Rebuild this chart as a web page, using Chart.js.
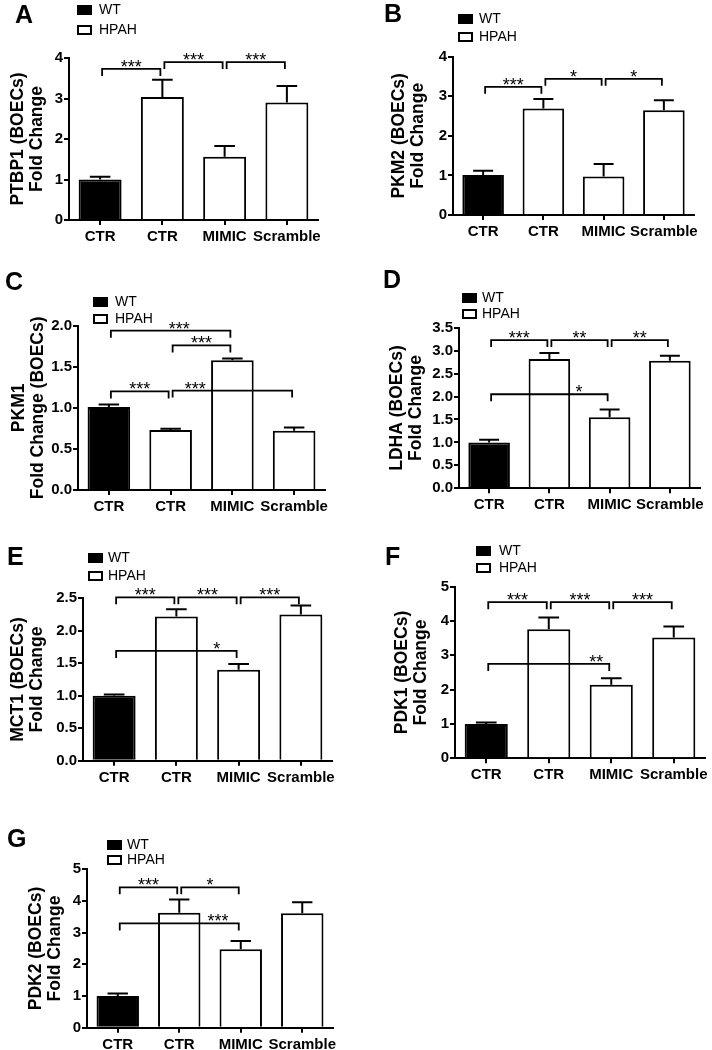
<!DOCTYPE html>
<html><head><meta charset="utf-8">
<script src="https://cdn.jsdelivr.net/npm/chart.js@4.4.1/dist/chart.umd.min.js"></script>
<style>
html,body{margin:0;padding:0;background:#fff;}
body{width:712px;height:1050px;position:relative;overflow:hidden;}
canvas{position:absolute;}
</style></head><body>
<canvas id="cA"></canvas><canvas id="cB"></canvas><canvas id="cC"></canvas><canvas id="cD"></canvas>
<canvas id="cE"></canvas><canvas id="cF"></canvas><canvas id="cG"></canvas>
<script>
// ---- data ----
const categories = ['CTR', 'CTR', 'MIMIC', 'Scramble'];
const groups = ['WT', 'HPAH', 'HPAH', 'HPAH'];
const legendLabels = ['WT', 'HPAH'];
const panelLetters = ['A', 'B', 'C', 'D', 'E', 'F', 'G'];

const ptbp1Mean = [1.00, 3.04, 1.56, 2.90];
const ptbp1Sem  = [0.07, 0.42, 0.27, 0.41];
const pkm2Mean  = [1.01, 2.69, 0.97, 2.65];
const pkm2Sem   = [0.11, 0.24, 0.32, 0.25];
const pkm1Mean  = [1.01, 0.73, 1.58, 0.72];
const pkm1Sem   = [0.03, 0.015, 0.02, 0.04];
const ldhaMean  = [1.00, 2.82, 1.55, 2.78];
const ldhaSem   = [0.06, 0.13, 0.17, 0.11];
const mct1Mean  = [1.00, 2.22, 1.40, 2.25];
const mct1Sem   = [0.02, 0.11, 0.09, 0.14];
const pdk1Mean  = [1.00, 3.76, 2.14, 3.52];
const pdk1Sem   = [0.04, 0.34, 0.19, 0.32];
const pdk2Mean  = [1.00, 3.63, 2.48, 3.61];
const pdk2Sem   = [0.08, 0.42, 0.26, 0.35];

const yTicksA = ['0', '1', '2', '3', '4'];
const yTicksB = ['0', '1', '2', '3', '4'];
const yTicksC = ['0.0', '0.5', '1.0', '1.5', '2.0'];
const yTicksD = ['0.0', '0.5', '1.0', '1.5', '2.0', '2.5', '3.0', '3.5'];
const yTicksE = ['0.0', '0.5', '1.0', '1.5', '2.0', '2.5'];
const yTicksF = ['0', '1', '2', '3', '4', '5'];
const yTicksG = ['0', '1', '2', '3', '4', '5'];

const yTitleA = ['PTBP1 (BOECs)', 'Fold Change'];
const yTitleB = ['PKM2 (BOECs)', 'Fold Change'];
const yTitleC = ['PKM1', 'Fold Change (BOECs)'];
const yTitleD = ['LDHA (BOECs)', 'Fold Change'];
const yTitleE = ['MCT1 (BOECs)', 'Fold Change'];
const yTitleF = ['PDK1 (BOECs)', 'Fold Change'];
const yTitleG = ['PDK2 (BOECs)', 'Fold Change'];

// significance brackets: [from category, to category, bracket level, stars, label category (null = middle)]
const sigA = [[0, 1, 3.73, '***', null], [1, 2, 3.90, '***', null], [2, 3, 3.90, '***', null]];
const sigB = [[0, 1, 3.24, '***', null], [1, 2, 3.44, '*', null], [2, 3, 3.44, '*', null]];
const sigC = [[0, 2, 1.94, '***', 1.14], [1, 2, 1.76, '***', null], [0, 1, 1.20, '***', null], [1, 3, 1.21, '***', 1.40]];
const sigD = [[0, 1, 3.23, '***', null], [1, 2, 3.23, '**', null], [2, 3, 3.23, '**', null], [0, 2, 2.05, '*', 1.49]];
const sigE = [[0, 1, 2.515, '***', null], [1, 2, 2.515, '***', null], [2, 3, 2.515, '***', null], [0, 2, 1.69, '*', 1.65]];
const sigF = [[0, 1, 4.55, '***', null], [1, 2, 4.55, '***', null], [2, 3, 4.55, '***', null], [0, 2, 2.75, '**', 1.76]];
const sigG = [[0, 1, 4.43, '***', null], [1, 2, 4.43, '*', null], [0, 2, 3.29, '***', 1.63]];

// ---- layout (page pixels) ----
const FAMILY = '"Liberation Sans", Arial, Helvetica, sans-serif';
Chart.defaults.font.family = FAMILY;
Chart.defaults.color = '#000';

const layouts = {
  A: {canvas: [0, 0, 356, 255],    plot: [69, 58, 318, 220],      title1X: 18,  letter: [15, 23],  legend: [77, 5, 25, 99]},
  B: {canvas: [356, 0, 356, 255],  plot: [453, 56.7, 694, 215],   title1X: 399, letter: [384, 22], legend: [458, 14, 32, 479]},
  C: {canvas: [0, 260, 356, 265],  plot: [78, 325.7, 325, 490],   title1X: 19,  letter: [5, 290],  legend: [93, 297, 314, 115]},
  D: {canvas: [356, 260, 356, 265],plot: [459, 327.7, 700, 488.3],title1X: 397, letter: [383, 288],legend: [462, 293, 309, 482]},
  E: {canvas: [0, 530, 356, 260],  plot: [83, 598.3, 332, 760.7], title1X: 18,  letter: [7, 565],  legend: [88, 553, 571, 108]},
  F: {canvas: [356, 530, 356, 260],plot: [455, 586.7, 705, 758.3],title1X: 402, letter: [385, 565],legend: [476, 546, 563, 499]},
  G: {canvas: [0, 820, 356, 230],  plot: [87, 869.3, 333, 1027.7],title1X: 36, letter: [7, 847],  legend: [107, 840, 855, 127]}
};

const decorPlugin = {
  id: 'decor',
  afterDatasetsDraw(chart, args, o) {
    const ctx = chart.ctx, xs = chart.scales.x, ys = chart.scales.y;
    const meta = chart.getDatasetMeta(0);
    ctx.save();
    ctx.strokeStyle = '#000';
    ctx.lineWidth = 2;
    // error bars (mean + SEM)
    o.mean.forEach((m, i) => {
      const bar = meta.data[i];
      const cx = xs.getPixelForValue(i);
      const yv = ys.getPixelForValue(m), yt = ys.getPixelForValue(m + o.sem[i]);
      const half = bar.width * 0.24;
      ctx.beginPath();
      ctx.moveTo(cx, yv); ctx.lineTo(cx, yt);
      ctx.moveTo(cx - half, yt); ctx.lineTo(cx + half, yt);
      ctx.stroke();
    });
    // significance brackets
    ctx.lineWidth = 1.8;
    ctx.fillStyle = '#000';
    ctx.font = '18px ' + FAMILY;
    ctx.textAlign = 'center';
    ctx.textBaseline = 'alphabetic';
    o.sig.forEach(([a, b, lvl, lab, at]) => {
      const x1 = xs.getPixelForValue(a) + 2, x2 = xs.getPixelForValue(b) - 2;
      const yy = ys.getPixelForValue(lvl);
      ctx.beginPath();
      ctx.moveTo(x1, yy + 7); ctx.lineTo(x1, yy); ctx.lineTo(x2, yy); ctx.lineTo(x2, yy + 7);
      ctx.stroke();
      const lx = at === null ? (x1 + x2) / 2 : xs.getPixelForValue(at);
      ctx.fillText(lab, lx, yy + 4);
    });
    ctx.restore();
  },
  afterDraw(chart, args, o) {
    const ctx = chart.ctx;
    const [ox, oy] = o.origin;
    ctx.save();
    // panel letter
    ctx.fillStyle = '#000';
    ctx.font = 'bold 25px ' + FAMILY;
    ctx.textAlign = 'left';
    ctx.textBaseline = 'alphabetic';
    ctx.fillText(o.letter, o.letterPos[0] - ox, o.letterPos[1] - oy);
    // legend
    const [bx, t1, t2, tx] = o.legendPos;
    const tops = [t1, t2];
    ctx.font = '14px ' + FAMILY;
    ctx.textBaseline = 'middle';
    legendLabels.forEach((lab, k) => {
      const top = tops[k] - oy, left = bx - ox;
      if (lab === 'WT') {
        ctx.fillStyle = '#000';
        ctx.fillRect(left, top, 15, 10);
      } else {
        ctx.fillStyle = '#fff';
        ctx.fillRect(left, top, 15, 10);
        ctx.strokeStyle = '#000';
        ctx.lineWidth = 2;
        ctx.strokeRect(left + 1, top + 1, 13, 8);
      }
      ctx.fillStyle = '#000';
      ctx.fillText(lab, tx - ox, top + 5.5);
    });
    ctx.restore();
  }
};

function makePanel(id, letter, mean, sem, yTicks, yTitle, sig) {
  const L = layouts[letter];
  const [cx, cy, cw, ch] = L.canvas;
  const [pl, pt, pr, pb] = L.plot;
  const cv = document.getElementById(id);
  cv.width = cw; cv.height = ch;
  cv.style.left = cx + 'px'; cv.style.top = cy + 'px';
  const titleFont = {family: FAMILY, size: 17.5, weight: 'bold', lineHeight: 1.1};
  const lh = 17.5 * 1.1;
  new Chart(cv, {
    type: 'bar',
    data: {
      labels: categories,
      datasets: [{
        data: mean,
        backgroundColor: groups.map(g => g === 'WT' ? '#000' : '#fff'),
        borderColor: '#000',
        borderWidth: 2,
        barPercentage: 0.69,
        categoryPercentage: 1
      }]
    },
    options: {
      responsive: false,
      animation: false,
      events: [],
      layout: {padding: {left: 0, top: pt - cy, right: cx + cw - pr, bottom: 0}},
      plugins: {
        legend: {display: false},
        tooltip: {enabled: false},
        decor: {
          mean: mean, sem: sem, sig: sig, letter: letter,
          origin: [cx, cy], letterPos: L.letter, legendPos: L.legend
        }
      },
      scales: {
        x: {
          offset: true,
          ticks: {font: {family: FAMILY, size: 15, weight: 'bold'}, color: '#000', padding: 3, maxRotation: 0, autoSkip: false},
          grid: {drawOnChartArea: false, drawTicks: true, tickLength: 5, color: '#000', lineWidth: 2, offset: false},
          border: {color: '#000', width: 2},
          afterFit: s => { s.height = cy + ch - pb; }
        },
        y: {
          min: 0,
          max: parseFloat(yTicks[yTicks.length - 1]),
          afterBuildTicks: s => { s.ticks = yTicks.map(t => ({value: parseFloat(t)})); },
          ticks: {callback: (v, i) => yTicks[i], font: {family: FAMILY, size: 15, weight: 'bold'}, color: '#000', padding: 1},
          grid: {drawOnChartArea: false, drawTicks: true, tickLength: 5, color: '#000', lineWidth: 2},
          border: {color: '#000', width: 2},
          title: {display: true, text: yTitle, font: titleFont, color: '#000', padding: {top: L.title1X - cx - lh / 2, bottom: 0}},
          afterFit: s => { s.width = pl - cx; }
        }
      }
    },
    plugins: [decorPlugin]
  });
}

makePanel('cA', 'A', ptbp1Mean, ptbp1Sem, yTicksA, yTitleA, sigA);
makePanel('cB', 'B', pkm2Mean, pkm2Sem, yTicksB, yTitleB, sigB);
makePanel('cC', 'C', pkm1Mean, pkm1Sem, yTicksC, yTitleC, sigC);
makePanel('cD', 'D', ldhaMean, ldhaSem, yTicksD, yTitleD, sigD);
makePanel('cE', 'E', mct1Mean, mct1Sem, yTicksE, yTitleE, sigE);
makePanel('cF', 'F', pdk1Mean, pdk1Sem, yTicksF, yTitleF, sigF);
makePanel('cG', 'G', pdk2Mean, pdk2Sem, yTicksG, yTitleG, sigG);
</script>
</body></html>
